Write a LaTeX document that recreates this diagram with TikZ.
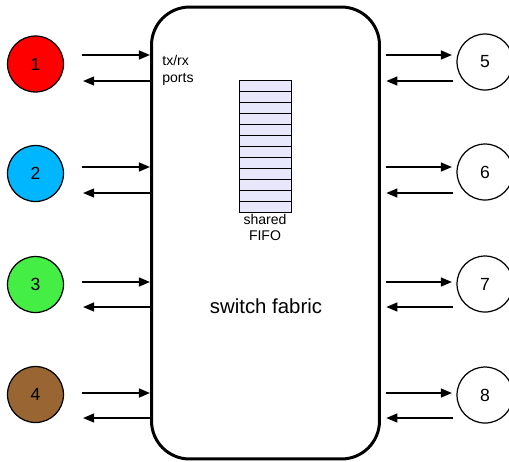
\documentclass[tikz,border=0pt]{standalone}
\usepackage{fontspec}
\setmainfont{Liberation Sans}
\usetikzlibrary{arrows.meta}
\definecolor{portred}{HTML}{FF0000}
\definecolor{portblue}{HTML}{00B6FF}
\definecolor{portgreen}{HTML}{44EE44}
\definecolor{portbrown}{HTML}{996633}
\definecolor{fifofill}{HTML}{E8E8FC}

\begin{document}
\begin{tikzpicture}[x=0.02cm,y=-0.02cm,>={Triangle[length=6.3pt,width=5pt]},
  port/.style={circle,draw,line width=0.7pt,minimum size=1.12cm,inner sep=0pt,font=\fontsize{10}{12}\selectfont},
  link/.style={->,line width=1.1pt},
  fabric/.style={draw,line width=1.7pt,rounded corners=0.76cm,minimum width=4.56cm,minimum height=9.04cm,inner sep=0pt},
  cell/.style={draw,fill=fifofill,line width=0.5pt}]
  \useasboundingbox (0,0) rectangle (509,461);

  \node[fabric] (fabric) at (265.5,233) {};

  % ports
  \node[port,fill=portred] (1) at (35.5,64) {1};
  \node[port,fill=portblue] (2) at (35.5,173.5) {2};
  \node[port,fill=portgreen] (3) at (35.5,284.5) {3};
  \node[port,fill=portbrown] (4) at (35.5,394.5) {4};
  \node[port] (5) at (485,62) {5};
  \node[port] (6) at (485,172) {6};
  \node[port] (7) at (485,284) {7};
  \node[port] (8) at (485,395) {8};

  % tx/rx links
  \foreach \n/\m/\yin/\yout in {1/5/55/81,2/6/167/193,3/7/282/307,4/8/393/418} {
    \coordinate (in\n) at (82,\yin);
    \coordinate (out\n) at (83,\yout);
    \coordinate (in\m) at (452,\yin);
    \coordinate (out\m) at (453,\yout);
    \draw[link] (in\n) -- (fabric.west |- in\n);
    \draw[link] (fabric.west |- out\n) -- (out\n);
    \draw[link,shorten <=3pt] (fabric.east |- in\m) -- (in\m);
    \draw[link,shorten >=3pt] (out\m) -- (fabric.east |- out\m);
  }

  % shared fifo
  \foreach \i in {0,...,11}
    \draw[cell] (239,80+11*\i) rectangle ++(52,11);

  \node[align=left,anchor=north west,inner sep=0pt,font=\fontsize{8}{9.6}\selectfont] (txrx) at (162,55) {tx/rx\\ports};
  \node[align=center,inner sep=0pt,font=\fontsize{8}{9.6}\selectfont] (fifo) at (265,227.5) {shared\\FIFO};
  \node[font=\fontsize{11.6}{14}\selectfont] (label) at (266,306) {switch fabric};
\end{tikzpicture}
\end{document}
